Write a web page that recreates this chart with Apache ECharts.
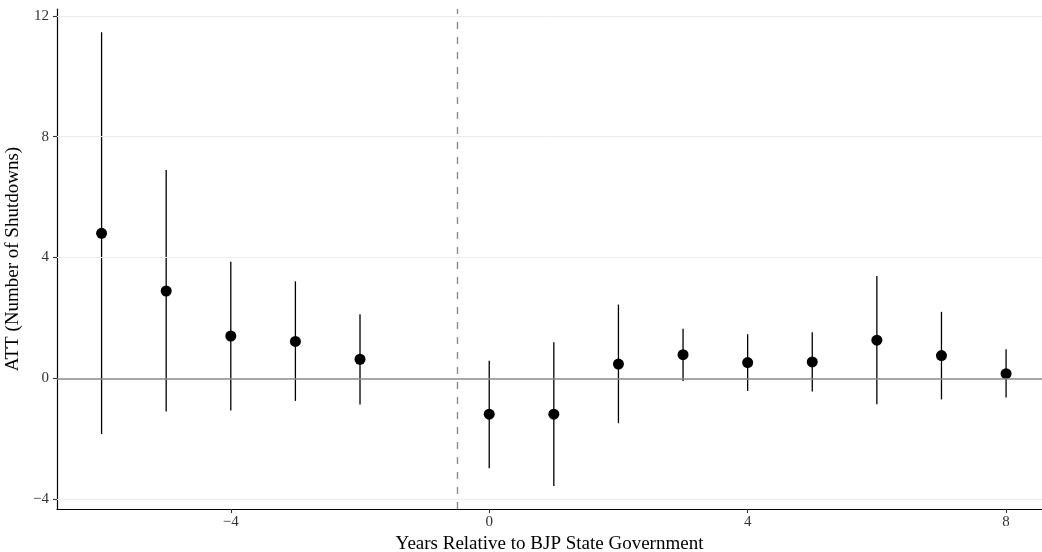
<!DOCTYPE html>
<html>
<head>
<meta charset="utf-8">
<script src="https://cdn.jsdelivr.net/npm/echarts@6/dist/echarts.min.js"></script>
<style>html,body{margin:0;padding:0;background:#fff}#c{width:1042px;height:552px}</style>
</head>
<body>
<div id="c"></div>
<script>
const years = [-6, -5, -4, -3, -2, 0, 1, 2, 3, 4, 5, 6, 7, 8];
const estimates = [4.80, 2.89, 1.40, 1.22, 0.63, -1.19, -1.19, 0.47, 0.78, 0.52, 0.54, 1.26, 0.75, 0.15];
const lower = [-1.85, -1.10, -1.07, -0.75, -0.87, -2.98, -3.57, -1.49, -0.09, -0.42, -0.44, -0.86, -0.70, -0.64];
const upper = [11.46, 6.90, 3.86, 3.21, 2.12, 0.58, 1.19, 2.44, 1.64, 1.46, 1.52, 3.39, 2.20, 0.96];
const xTicks = [-4, 0, 4, 8];
const yTicks = [-4, 0, 4, 8, 12];
const treatmentLine = -0.5;

const font = 'Liberation Serif';
const fmt = v => String(v).replace('-', '\u2212');

const chart = echarts.init(document.getElementById('c'), null, {renderer: 'canvas'});
const barData = years.map((y, i) => [y, lower[i], upper[i]]);
const pointData = years.map((y, i) => [y, estimates[i]]);

chart.setOption({
  animation: false,
  backgroundColor: '#fff',
  grid: {left: 57, right: 0, top: 9, bottom: 43, containLabel: false, outerBoundsMode: 'none'},
  xAxis: {
    type: 'value', min: -6.69, max: 8.556,
    name: 'Years Relative to BJP State Government',
    nameLocation: 'middle', nameGap: 23,
    nameTextStyle: {fontFamily: font, fontSize: 19, color: '#000'},
    axisLine: {show: true, onZero: false, lineStyle: {color: '#000', width: 1.2}},
    axisTick: {show: true, length: 4, customValues: xTicks, lineStyle: {color: '#333', width: 1.1}},
    axisLabel: {customValues: xTicks, formatter: fmt, fontFamily: font, fontSize: 15, color: '#333', margin: 6},
    splitLine: {show: false}
  },
  yAxis: {
    type: 'value', min: -4.33, max: 12.23,
    name: 'ATT (Number of Shutdowns)',
    nameLocation: 'middle', nameGap: 30,
    nameTextStyle: {fontFamily: font, fontSize: 19, color: '#000'},
    axisLine: {show: true, onZero: false, lineStyle: {color: '#000', width: 1.2}},
    axisTick: {show: true, length: 4, customValues: yTicks, lineStyle: {color: '#333', width: 1.1}},
    axisLabel: {customValues: yTicks, formatter: fmt, fontFamily: font, fontSize: 15, color: '#333', margin: 8},
    splitLine: {show: false}
  },
  series: [
    {
      type: 'line', data: [], silent: true,
      markLine: {
        silent: true, symbol: 'none', label: {show: false}, animation: false,
        lineStyle: {color: '#ebebeb', width: 1, type: 'solid'},
        data: yTicks.filter(v => v !== 0).map(v => ({yAxis: v}))
      }
    },
    {
      type: 'line', data: [], silent: true,
      markLine: {
        silent: true, symbol: 'none', label: {show: false}, animation: false,
        data: [
          {yAxis: 0, lineStyle: {color: '#8a8a8a', width: 1.6, type: 'solid'}},
          {xAxis: treatmentLine, lineStyle: {color: '#8a8a8a', width: 1.4, type: [7, 8]}}
        ]
      }
    },
    {
      type: 'custom', data: barData, z: 3,
      encode: {x: 0, y: [1, 2]},
      renderItem: (params, api) => {
        const p1 = api.coord([api.value(0), api.value(1)]);
        const p2 = api.coord([api.value(0), api.value(2)]);
        return {type: 'line', shape: {x1: p1[0], y1: p1[1], x2: p2[0], y2: p2[1]},
          style: {stroke: '#000', lineWidth: 1.3}};
      }
    },
    {
      type: 'scatter', data: pointData, z: 4,
      symbol: 'circle', symbolSize: 11,
      itemStyle: {color: '#000', opacity: 1}
    }
  ]
});
</script>
</body>
</html>
